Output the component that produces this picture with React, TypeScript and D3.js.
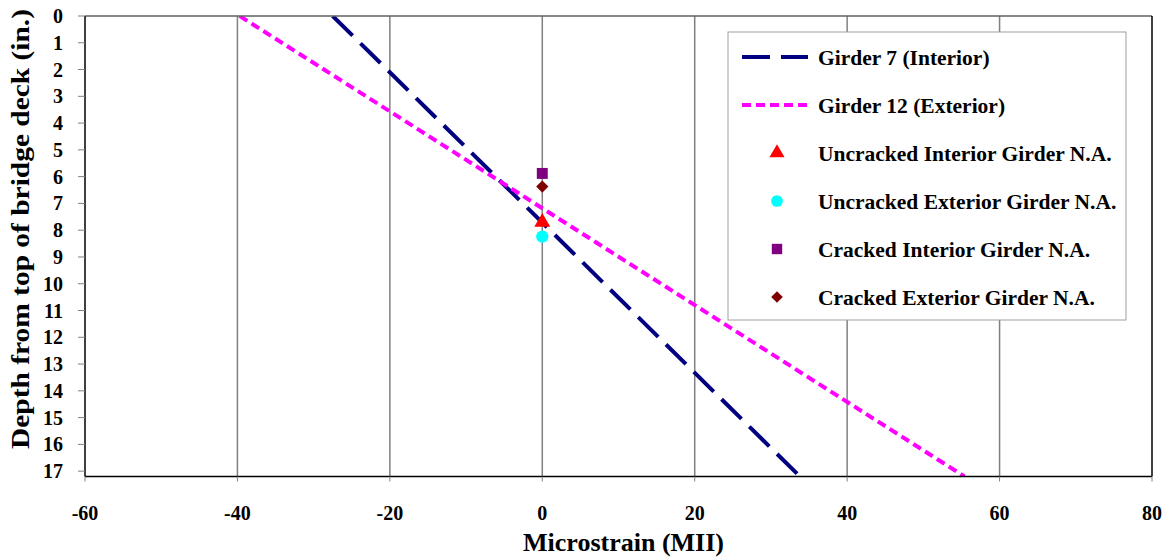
import React from "react";
import * as d3 from "d3";

const xTicks = [-60, -40, -20, 0, 20, 40, 60, 80];
const yTicks = d3.range(0, 18);

const girder7Depth = [0, 17.2];
const girder7Strain = [-27.5, 33.8];
const girder12Depth = [0, 17.2];
const girder12Strain = [-39.7, 55.4];

const markerNames = [
  "Uncracked Interior Girder N.A.",
  "Uncracked Exterior Girder N.A.",
  "Cracked Interior Girder N.A.",
  "Cracked Exterior Girder N.A.",
];
const markerStrain = [0, 0, 0, 0];
const markerDepth = [7.7, 8.24, 5.88, 6.37];
const markerColors = ["#FF0000", "#00FFFF", "#800080", "#800000"];
const markerShapes = [d3.symbolTriangle, d3.symbolCircle, d3.symbolSquare, d3.symbolSquare];
const markerRotate = [0, 0, 0, 45];
const markerSizes = [110, 120, 120, 75];

const W = 1170, H = 559;
const L = 85, R = 1152, T = 16, B = 476.5;
const FONT = "'Liberation Serif', 'Times New Roman', serif";

export default function App() {
  const x = d3.scaleLinear().domain([-60, 80]).range([L, R]);
  const y = d3.scaleLinear().domain([0, 17.2]).range([T, B]);
  const line = d3.line<[number, number]>().x(d => x(d[0])).y(d => y(d[1]));
  const g7 = girder7Depth.map((d, i) => [girder7Strain[i], d] as [number, number]);
  const g12 = girder12Depth.map((d, i) => [girder12Strain[i], d] as [number, number]);

  const legX = 728, legY = 32, legW = 398, legH = 288;
  const rowY = (i: number) => 57 + i * 48;

  return (
    <svg width={W} height={H} style={{ position: "absolute", left: 0, top: 0 }} fontFamily={FONT}>
      <rect width={W} height={H} fill="#fff" />
      {xTicks.slice(1, -1).map(t => (
        <line key={t} x1={x(t)} x2={x(t)} y1={T} y2={B} stroke="#808080" strokeWidth={1.5} />
      ))}
      <clipPath id="plot"><rect x={L} y={T} width={R - L} height={B - T} /></clipPath>
      <g clipPath="url(#plot)">
        <path d={line(g7)!} fill="none" stroke="#000080" strokeWidth={4} strokeDasharray="28 11" />
        <path d={line(g12)!} fill="none" stroke="#FF00FF" strokeWidth={4} strokeDasharray="9 5" />
      </g>
      {markerNames.map((n, i) => (
        <path key={n} d={d3.symbol().type(markerShapes[i]).size(markerSizes[i])()!}
          transform={`translate(${x(markerStrain[i])},${y(markerDepth[i])}) rotate(${markerRotate[i]})`} fill={markerColors[i]} />
      ))}
      <line x1={L} x2={R} y1={T} y2={T} stroke="#606060" strokeWidth={1.5} />
      <line x1={L} x2={L} y1={T} y2={B} stroke="#000" strokeWidth={1.5} />
      <line x1={L} x2={R} y1={B} y2={B} stroke="#000" strokeWidth={1.5} />
      <line x1={R} x2={R} y1={T} y2={B} stroke="#000" strokeWidth={1.5} />
      {yTicks.map(t => (
        <g key={t}>
          <line x1={L - 7} x2={L} y1={y(t)} y2={y(t)} stroke="#808080" strokeWidth={1} />
          <text x={63} y={y(t)} dy="0.35em" textAnchor="end" fontSize={20} fontWeight="bold">{t}</text>
        </g>
      ))}
      {xTicks.map(t => (
        <g key={t}>
          <line x1={x(t)} x2={x(t)} y1={B} y2={B + 5} stroke="#808080" strokeWidth={1} />
          <text x={x(t)} y={513} dy="0.35em" textAnchor="middle" fontSize={20} fontWeight="bold">{t}</text>
        </g>
      ))}
      <text x={(L + R) / 2 + 5} y={551} textAnchor="middle" fontSize={26} fontWeight="bold">Microstrain (MII)</text>
      <text transform={`translate(29,229) rotate(-90)`} textAnchor="middle" fontSize={26} fontWeight="bold"
        textLength={440} lengthAdjust="spacingAndGlyphs">Depth from top of bridge deck (in.)</text>

      <rect x={legX} y={legY} width={legW} height={legH} fill="#fff" stroke="#a0a0a0" strokeWidth={1} />
      <line x1={742} x2={808} y1={rowY(0)} y2={rowY(0)} stroke="#000080" strokeWidth={4} strokeDasharray="28 11" />
      <line x1={742} x2={808} y1={rowY(1)} y2={rowY(1)} stroke="#FF00FF" strokeWidth={4} strokeDasharray="9 5" />
      <text x={818} y={rowY(0)} dy="0.35em" fontSize={21.5} fontWeight="bold">Girder 7 (Interior)</text>
      <text x={818} y={rowY(1)} dy="0.35em" fontSize={21.5} fontWeight="bold">Girder 12 (Exterior)</text>
      {markerNames.map((n, i) => (
        <g key={n}>
          <path d={d3.symbol().type(markerShapes[i]).size(markerSizes[i] * 0.9)()!}
            transform={`translate(777,${rowY(i + 2)}) rotate(${markerRotate[i]})`} fill={markerColors[i]} />
          <text x={818} y={rowY(i + 2)} dy="0.35em" fontSize={21.5} fontWeight="bold">{n}</text>
        </g>
      ))}
    </svg>
  );
}
